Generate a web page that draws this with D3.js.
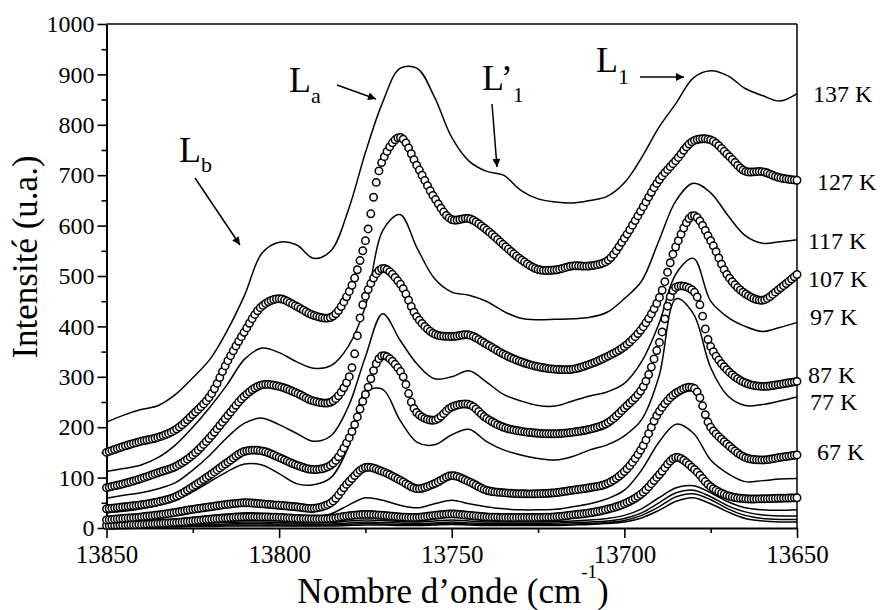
<!DOCTYPE html>
<html><head><meta charset="utf-8">
<script src="https://cdn.jsdelivr.net/npm/d3@7"></script>
<style>
body{margin:0;background:#fff}
svg{display:block}
.serif{font-family:"Liberation Serif","Times New Roman",serif}
</style>
</head><body>
<svg id="chart" width="880" height="610"></svg>
<script>
// ---------------- DATA ----------------
const wavenumbers = [13850,13845,13840,13835,13830,13825,13820,13815,13810,13805,13800,13795,13790,13785,13780,13775,13770,13765,13760,13755,13750,13745,13740,13735,13730,13725,13720,13715,13710,13705,13700,13695,13690,13685,13680,13675,13670,13665,13660,13655,13650];

const t137 = [210,224,235,243,265,298,335,392,462,545,567,562,535,550,630,745,845,912,912,855,775,728,708,700,670,653,647,645,650,658,685,735,795,843,893,907,897,872,858,847,862];
const t127 = [150,162,172,180,195,225,262,330,390,440,455,440,422,418,465,570,730,775,718,655,612,614,592,562,533,513,512,520,520,530,575,632,690,730,768,770,740,708,707,695,690];
const t117 = [112,118,125,140,165,200,240,285,335,357,348,330,317,322,360,440,590,622,555,495,468,462,450,430,416,413,414,415,418,428,455,490,570,650,684,665,620,580,565,568,572];
const t107 = [80,88,98,110,122,145,180,222,262,284,281,268,252,250,295,460,515,485,418,385,380,383,365,345,330,320,315,315,325,340,360,395,455,560,620,570,500,465,452,475,503];
const t97  = [59,65,70,78,90,115,145,180,208,218,205,188,172,183,240,340,425,373,325,296,300,312,290,265,252,243,242,252,262,270,287,330,405,505,535,450,418,400,390,398,408];
const t87  = [38,42,46,52,62,82,105,130,152,153,140,125,116,125,175,265,342,312,228,214,240,245,218,200,192,188,187,190,196,208,238,275,365,478,470,360,312,288,281,285,291];
const t77  = [30,33,38,45,55,72,92,112,127,125,108,88,86,100,160,270,275,214,170,165,185,196,172,155,145,138,135,142,155,165,183,215,300,455,425,318,262,243,245,252,260];
const t67  = [16,19,22,26,31,37,42,47,50,48,45,42,39,50,90,120,112,95,78,88,104,92,75,70,68,68,70,75,80,88,112,158,230,268,278,200,165,140,135,140,145];
const t57  = [8,10,12,14,17,21,25,28,30,29,27,24,23,28,45,60,55,45,40,48,55,48,42,38,36,36,37,42,48,58,75,115,170,206,188,135,108,92,94,97,98];
const t47  = [5,6,7,9,11,14,17,20,22,22,21,19,18,19,24,27,25,22,21,25,28,25,22,21,21,21,22,26,30,37,48,68,105,140,118,82,64,58,58,59,60];
const t37  = [4,4,5,6,7,8,10,11,12,12,11,10,10,11,14,16,15,13,12,14,16,14,12,12,12,12,13,14,16,19,25,38,60,80,84,70,52,40,36,35,36];
const t27  = [3,3,4,4,5,6,7,8,9,9,8,8,7,8,10,12,11,10,9,10,12,10,9,9,9,9,10,11,12,14,19,30,50,70,75,62,44,32,26,24,24];
const t17  = [2,2,3,3,4,4,5,6,6,6,6,5,5,6,7,9,8,7,7,8,9,8,7,7,7,7,7,8,9,11,15,25,42,62,68,56,38,25,19,17,17];
const t7   = [1,1,2,2,2,3,3,4,4,4,4,4,4,4,5,6,6,5,5,6,7,6,5,5,5,5,5,6,7,9,12,20,35,53,60,48,32,19,14,12,12];

const seriesValues = [t137,t127,t117,t107,t97,t87,t77,t67,t57,t47,t37,t27,t17,t7];
const seriesMarkers = ["line","circle","line","circle","line","circle","line","circle","line","circle","line","line","line","line"];
const tempLabels = ["137 K","127 K","117 K","107 K","97 K","87 K","77 K","67 K"];

const yMajorTicks = [0,100,200,300,400,500,600,700,800,900,1000];
const yMinorTicks = [50,150,250,350,450,550,650,750,850,950];
const xMajorTicks = [13850,13800,13750,13700,13650];
const xMinorTicks = [13825,13775,13725,13675];

const yTitle = "Intensité (u.a.)";
const xTitleMain = "Nombre d’onde (cm";
const xTitleSup = "-1";
const xTitleEnd = ")";

// ---------------- LAYOUT ----------------
const PL = 106.5, PR = 797, PT = 24, PB = 528;
const labelDx = [16,20,11,11,13,11,13,20];
const labelDy = [0,1,1,4,-6,-7,5,-3];

const svg = d3.select("#chart");
const x = d3.scaleLinear().domain([13850,13650]).range([PL,PR]);
const y = d3.scaleLinear().domain([0,1000]).range([PB,PT]);

// frame (top & right)
svg.append("line").attr("x1",PL).attr("x2",PR).attr("y1",PT).attr("y2",PT)
  .attr("stroke","#000").attr("stroke-width",1.5);
svg.append("line").attr("x1",PR).attr("x2",PR).attr("y1",PT).attr("y2",PB)
  .attr("stroke","#000").attr("stroke-width",1.5);

// y axis
const yAx = svg.append("g").attr("transform",`translate(${PL},0)`)
  .call(d3.axisLeft(y).tickValues(yMajorTicks).tickSize(9).tickSizeOuter(0).tickPadding(3).tickFormat(d3.format("d")));
svg.append("g").attr("transform",`translate(${PL},0)`)
  .call(d3.axisLeft(y).tickValues(yMinorTicks).tickSize(5).tickSizeOuter(0).tickFormat(""))
  .select(".domain").remove();
yAx.attr("font-family",null).attr("font-size",null);
yAx.selectAll("text").attr("class","serif").style("font-size","24px");

// x axis
const xAx = svg.append("g").attr("transform",`translate(0,${PB})`)
  .call(d3.axisBottom(x).tickValues(xMajorTicks).tickSize(10).tickSizeOuter(0).tickPadding(7).tickFormat(d3.format("d")));
svg.append("g").attr("transform",`translate(0,${PB})`)
  .call(d3.axisBottom(x).tickValues(xMinorTicks).tickSize(5).tickSizeOuter(0).tickFormat(""))
  .select(".domain").remove();
xAx.attr("font-family",null).attr("font-size",null);
xAx.selectAll("text").attr("class","serif").style("font-size","25px");

svg.selectAll(".domain").attr("stroke-width",2);
svg.selectAll(".tick line").attr("stroke-width",1.6);

// curves
const lineGen = d3.line()
  .x((d,i)=>x(wavenumbers[i]))
  .y(d=>y(d))
  .curve(d3.curveCatmullRom.alpha(0.5));

const gLines = svg.append("g");
const gCircles = svg.append("g");

seriesValues.forEach((vals,k)=>{
  if (seriesMarkers[k]==="line") {
    gLines.append("path").attr("d",lineGen(vals))
      .attr("fill","none").attr("stroke","#000").attr("stroke-width",1.5);
  }
});

// circle series: markers spaced evenly along the wavenumber axis on the drawn curve
const markerStepPx = 2.7;
const circleOrder = [];
seriesValues.forEach((vals,k)=>{ if (seriesMarkers[k]==="circle") circleOrder.push(k); });
circleOrder.reverse().forEach(k=>{
  const vals = seriesValues[k];
  const p = svg.append("path").attr("d",lineGen(vals)).attr("fill","none").attr("stroke","none");
  const node = p.node();
  const L = node.getTotalLength();
  const pts = [];
  for (let l=0; l<L; l+=0.4) pts.push(node.getPointAtLength(l));
  pts.push(node.getPointAtLength(L));
  p.remove();
  const g = gCircles.append("g");
  let j = 0;
  const x0 = x(wavenumbers[0]), x1 = x(wavenumbers[wavenumbers.length-1]);
  const n = Math.round((x1-x0)/markerStepPx);
  for (let m=0; m<=n; m++) {
    const px = x0 + (x1-x0)*m/n;
    while (j < pts.length-2 && pts[j+1].x < px) j++;
    const a = pts[j], b = pts[j+1];
    const t = (b.x-a.x) === 0 ? 0 : Math.max(0,Math.min(1,(px-a.x)/(b.x-a.x)));
    const py = a.y + (b.y-a.y)*t;
    g.append("circle").attr("cx",px).attr("cy",py).attr("r",3.7)
      .attr("fill","#fff").attr("stroke","#000").attr("stroke-width",1.5);
  }
});

// temperature labels
tempLabels.forEach((lab,k)=>{
  const vals = seriesValues[k];
  svg.append("text")
    .attr("x", PR + labelDx[k])
    .attr("y", y(vals[vals.length-1]) + labelDy[k])
    .attr("dy","0.35em")
    .attr("class","serif")
    .style("font-size","24px")
    .text(lab);
});

// axis titles
svg.append("text")
  .attr("transform","translate(37,257) rotate(-90)")
  .attr("text-anchor","middle")
  .attr("class","serif")
  .style("font-size","35px")
  .text(yTitle);

const xt = svg.append("text").attr("x",453).attr("y",603).attr("text-anchor","middle")
  .attr("class","serif").style("font-size","35px");
xt.append("tspan").text(xTitleMain);
xt.append("tspan").attr("dy",-25).style("font-size","19px").text(xTitleSup);
xt.append("tspan").attr("dy",25).style("font-size","35px").text(xTitleEnd);

// peak annotations
const defs = svg.append("defs");
defs.append("marker").attr("id","ah").attr("viewBox","0 0 10 10").attr("refX",10).attr("refY",5)
  .attr("markerWidth",10).attr("markerHeight",8).attr("markerUnits","userSpaceOnUse").attr("orient","auto")
  .append("path").attr("d","M0,0 L10,5 L0,10 Z").attr("fill","#000");

function annot(tx,ty,main,sub,prime,subDy){
  const t = svg.append("text").attr("x",tx).attr("y",ty).attr("class","serif").style("font-size","36px");
  t.append("tspan").text(main);
  if (prime) t.append("tspan").text(prime);
  t.append("tspan").attr("dy",subDy).style("font-size","22px").text(sub);
}
function arrow(x1,y1,x2,y2){
  svg.append("line").attr("x1",x1).attr("y1",y1).attr("x2",x2).attr("y2",y2)
    .attr("stroke","#000").attr("stroke-width",1.5).attr("marker-end","url(#ah)");
}
annot(179,162,"L","b",null,10);
arrow(195,178,240,245);
annot(289,92,"L","a",null,11);
arrow(337,85,376,99);
annot(482,90,"L","1","’",12);
arrow(492,104,497,167);
annot(596,72,"L","1",null,12);
arrow(640,77,684,77);
</script>
</body></html>
